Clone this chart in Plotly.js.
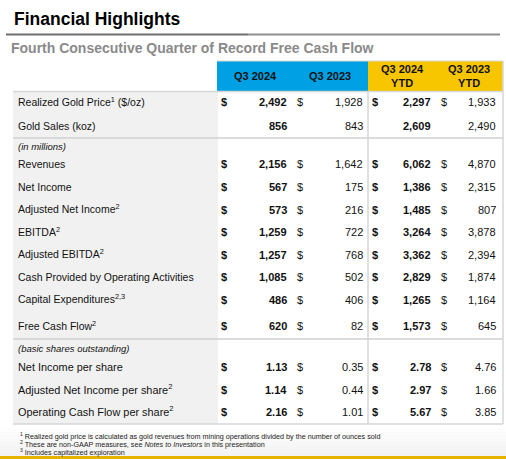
<!DOCTYPE html>
<html>
<head>
<meta charset="utf-8">
<script src="https://cdn.plot.ly/plotly-3.0.1.min.js"></script>
<style>html,body{margin:0;padding:0;background:#fff;}#chart{width:506px;height:459px;}</style>
</head>
<body>
<div id="chart"></div>
<script>
// ---- data ----
var columnHeaders = ["Q3 2024", "Q3 2023", "Q3 2024<br>YTD", "Q3 2023<br>YTD"];
var rowLabels = [
  "Realized Gold Price<sup>1</sup> ($/oz)",
  "Gold Sales (koz)",
  "(in millions)",
  "Revenues",
  "Net Income",
  "Adjusted Net Income<sup>2</sup>",
  "EBITDA<sup>2</sup>",
  "Adjusted EBITDA<sup>2</sup>",
  "Cash Provided by Operating Activities",
  "Capital Expenditures<sup>2,3</sup>",
  "Free Cash Flow<sup>2</sup>",
  "(basic shares outstanding)",
  "Net Income per share",
  "Adjusted Net Income per share<sup>2</sup>",
  "Operating Cash Flow per share<sup>2</sup>"
];
var isSubheading = [false, false, true, false, false, false, false, false, false, false, false, true, false, false, false];
var hasDollar   = [true, false, false, true, true, true, true, true, true, true, true, false, true, true, true];
var q3_2024     = ["2,492", "856", "", "2,156", "567", "573", "1,259", "1,257", "1,085", "486", "620", "", "1.13", "1.14", "2.16"];
var q3_2023     = ["1,928", "843", "", "1,642", "175", "216", "722", "768", "502", "406", "82", "", "0.35", "0.44", "1.01"];
var ytd_2024    = ["2,297", "2,609", "", "6,062", "1,386", "1,485", "3,264", "3,362", "2,829", "1,265", "1,573", "", "2.78", "2.97", "5.67"];
var ytd_2023    = ["1,933", "2,490", "", "4,870", "2,315", "807", "3,878", "2,394", "1,874", "1,164", "645", "", "4.76", "1.66", "3.85"];
var footnotes = [
  "<sup>1</sup> Realized gold price is calculated as gold revenues from mining operations divided by the number of ounces sold",
  "<sup>2</sup> These are non-GAAP measures, see <i>Notes to Investors</i> in this presentation",
  "<sup>3</sup> Includes capitalized exploration"
];
var titleText = "Financial Highlights";
var subtitleText = "Fourth Consecutive Quarter of Record Free Cash Flow";

// ---- layout constants ----
var FONT = "Liberation Sans, Arial, sans-serif";
var rowY = [102, 125.5, 146, 164, 187, 209.5, 232, 254.5, 277, 299.5, 326, 348.5, 367, 389.5, 412];
var labelX = 16;
var dollarX = [219, 295, 370, 439];
var valueRightX = [289, 365, 433, 498];
var headerCenterX = [255, 330, 402, 469];
var seriesList = [q3_2024, q3_2023, ytd_2024, ytd_2023];
var boldCol = [true, false, true, false];

var shapes = [];
var annotations = [];

function rect(x0, y0, x1, y1, fill, line) {
  shapes.push({type: "rect", xref: "x", yref: "y", x0: x0, x1: x1, y0: y0, y1: y1,
    fillcolor: fill, line: line || {width: 0}, layer: "below"});
}
function hline(x0, x1, y, color, w) {
  shapes.push({type: "line", xref: "x", yref: "y", x0: x0, x1: x1, y0: y, y1: y,
    line: {color: color, width: w}});
}
function vline(x, y0, y1, color, w) {
  shapes.push({type: "line", xref: "x", yref: "y", x0: x, x1: x, y0: y0, y1: y1,
    line: {color: color, width: w}});
}
function txt(x, y, t, opts) {
  annotations.push(Object.assign({xref: "x", yref: "y", x: x, y: y, text: t, showarrow: false,
    xanchor: "left", yanchor: "middle", font: {family: FONT, size: 11, color: "#111"}}, opts || {}));
}

// title + subtitle
txt(12, 19, "<b>" + titleText + "</b>", {font: {family: FONT, size: 17.5, color: "#000"}});
hline(6, 248, 34.5, "#6e6e6e", 2);
hline(248, 500, 34.5, "#8e8e8e", 2);
txt(9, 48, "<b>" + subtitleText + "</b>", {font: {family: FONT, size: 14, color: "#8a8a8a"}});

// footnote area gradient
var gsteps = 8;
for (var g = 0; g < gsteps; g++) {
  var c = Math.round(255 - (g + 1) * 1.6);
  rect(0, 428 + g * 3.5, 506, 428 + (g + 1) * 3.5, "rgb(" + c + "," + c + "," + c + ")");
}
hline(0, 506, 457.5, "#e5b300", 3);

// header boxes
rect(217, 61, 368, 91, "#00a1e4");
rect(368, 61, 503, 91, "#f8c600");
hline(217, 503, 61, "#d8d8d8", 1);

// label column background
rect(13, 91, 218, 424, "#f1f1f1");
// table borders
hline(13, 503, 91.5, "#d6d6d6", 1.5);
hline(13, 503, 138, "#d0d0d0", 1.5);
hline(13, 503, 339, "#d0d0d0", 1.5);
hline(13, 503, 424, "#d6d6d6", 1.5);
vline(368, 91, 424, "#d6d6d6", 1.5);
vline(503, 61, 424, "#d6d6d6", 1.5);

// headers
for (var h = 0; h < columnHeaders.length; h++) {
  txt(headerCenterX[h], 76, "<b>" + columnHeaders[h] + "</b>",
      {xanchor: "center", font: {family: FONT, size: 11, color: "#111"}});
}

// rows
for (var r = 0; r < rowLabels.length; r++) {
  if (isSubheading[r]) {
    txt(labelX, rowY[r], "<i>" + rowLabels[r] + "</i>", {font: {family: FONT, size: 9.5, color: "#111"}});
    continue;
  }
  var hasSup = rowLabels[r].indexOf("<sup>") >= 0;
  var lsize = r >= 12 ? 10.9 : 10.5;
  txt(labelX, rowY[r], rowLabels[r], {yshift: hasSup ? 1 : 0, font: {family: FONT, size: lsize, color: "#111"}});
  for (var k = 0; k < seriesList.length; k++) {
    var v = seriesList[k][r];
    if (hasDollar[r]) {
      txt(dollarX[k], rowY[r], boldCol[k] ? "<b>$</b>" : "$", {font: {family: FONT, size: 11, color: "#111"}});
    }
    if (v !== "") {
      txt(valueRightX[k], rowY[r], boldCol[k] ? "<b>" + v + "</b>" : v,
          {xanchor: "right", font: {family: FONT, size: 11, color: "#111"}});
    }
  }
}

// footnotes
var fnY = [436.5, 444.5, 452.5];
for (var f = 0; f < footnotes.length; f++) {
  txt(18, fnY[f], footnotes[f], {yshift: 1, font: {family: FONT, size: 7.2, color: "#222"}});
}

var layout = {
  width: 506, height: 459,
  margin: {l: 0, r: 0, t: 0, b: 0},
  paper_bgcolor: "#ffffff", plot_bgcolor: "#ffffff",
  showlegend: false,
  xaxis: {range: [0, 506], visible: false, fixedrange: true},
  yaxis: {range: [459, 0], visible: false, fixedrange: true},
  shapes: shapes,
  annotations: annotations
};

Plotly.newPlot("chart", [{type: "scatter", x: [], y: [], mode: "markers", hoverinfo: "skip"}], layout,
  {displayModeBar: false, staticPlot: true});
</script>
</body>
</html>
